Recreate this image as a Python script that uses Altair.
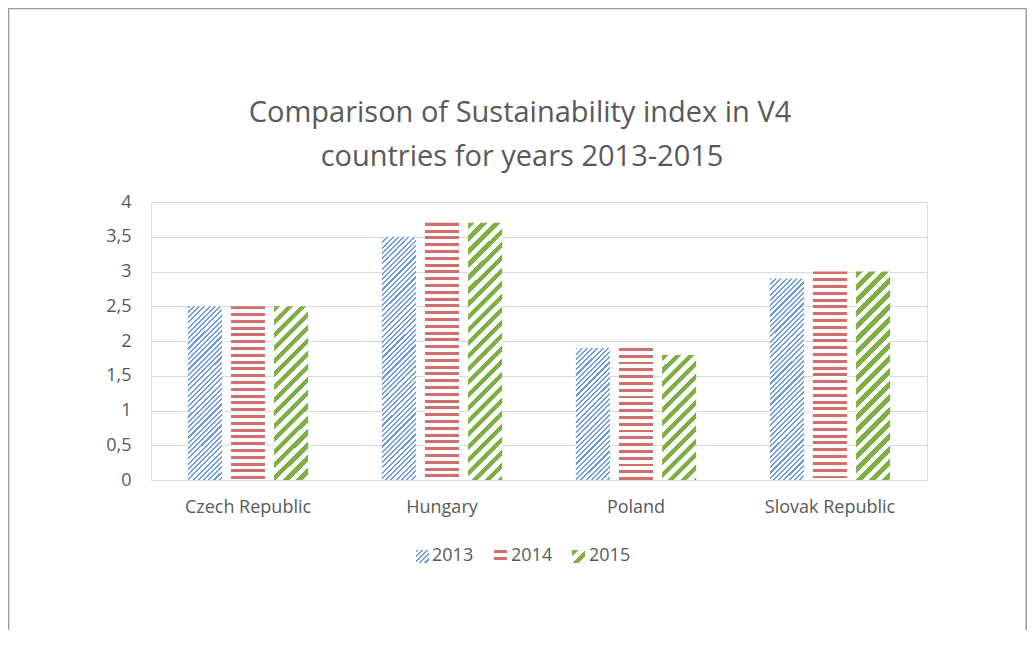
import math
import altair as alt
import pandas as pd

# ---- data ----
countries = ["Czech Republic", "Hungary", "Poland", "Slovak Republic"]
years = ["2013", "2014", "2015"]
v2013 = [2.5, 3.5, 1.9, 2.9]
v2014 = [2.5, 3.7, 1.9, 3.0]
v2015 = [2.5, 3.7, 1.8, 3.0]
y_ticks = [0, 0.5, 1, 1.5, 2, 2.5, 3, 3.5, 4]
title_lines = ["Comparison of Sustainability index in V4", "countries for years 2013-2015"]

rows = []
for yr, vals in zip(years, [v2013, v2014, v2015]):
    for c, v in zip(countries, vals):
        rows.append({"country": c, "year": yr, "value": v})
df = pd.DataFrame(rows)

# ---- layout / style ----
W_PLOT, H_PLOT = 776, 278
PX = H_PLOT / 4.0          # px per unit
BAR_W = 34.0
FONT = "Open Sans"
GREY = "#595959"
BLUE, RED, GREEN = "#6d9ad8", "#d16f6c", "#7eb044"
D = 320.0                  # gradient length in px
SQ2 = math.sqrt(2)

# stripe specs: (color, period_px, thickness_px, kind)
spec = {
    "2013": (BLUE, 3.7, 1.5, "diag"),
    "2014": (RED, 6.8, 2.9, "horiz"),
    "2015": (GREEN, 9.2, 4.6, "diag"),
}


def stop_list(color, period, thick):
    out = []
    i = 0
    while True:
        a = i * period / D
        if a >= 1:
            break
        b = min((i * period + thick) / D, 1.0)
        nxt = min((i + 1) * period / D, 1.0)
        out += [(a, color), (b, color), (b, "#ffffff"), (nxt, "#ffffff")]
        i += 1
    return out


def stops_expr(stops):
    return "[" + ",".join("{offset:%.5f,color:'%s'}" % (o, c) for o, c in stops) + "]"


def grad_expr(yr):
    color, period, thick, kind = spec[yr]
    st = stops_expr(stop_list(color, period, thick))
    h = "(datum.value*%.4f)" % PX
    if kind == "diag":
        den = "(%.4f+%s*%s)" % (BAR_W * BAR_W, h, h)
        x2 = "%.4f/%s" % (D * SQ2 * BAR_W, den)
        y2 = "%.4f*%s/%s" % (D * SQ2, h, den)
        return "{gradient:'linear',x1:0,y1:0,x2:%s,y2:%s,stops:%s}" % (x2, y2, st)
    else:
        y2 = "%.4f/%s" % (D, h)
        return "{gradient:'linear',x1:0,y1:0,x2:0,y2:%s,stops:%s}" % (y2, st)


def grad_dict(yr, w, h):
    color, period, thick, kind = spec[yr]
    stops = [{"offset": round(o, 5), "color": c} for o, c in stop_list(color, period, thick)]
    if kind == "diag":
        den = w * w + h * h
        return {"gradient": "linear", "x1": 0, "y1": 0,
                "x2": D * SQ2 * w / den, "y2": D * SQ2 * h / den, "stops": stops}
    return {"gradient": "linear", "x1": 0, "y1": 0, "x2": 0, "y2": D / h, "stops": stops}


fill_expr = "datum.year == '2013' ? %s : (datum.year == '2014' ? %s : %s)" % (
    grad_expr("2013"), grad_expr("2014"), grad_expr("2015"))

one = alt.Data(values=[{"k": 1}])

bars = alt.Chart(df).mark_bar(strokeWidth=0).encode(
    x=alt.X("country:N", sort=countries, title=None,
            scale=alt.Scale(paddingInner=0.38, paddingOuter=0.19),
            axis=alt.Axis(labelFont=FONT, labelFontSize=18, labelColor=GREY,
                          labelPadding=18, ticks=False, domain=False, labelAngle=0)),
    xOffset=alt.XOffset("year:N", sort=years,
                        scale=alt.Scale(paddingInner=0.21, paddingOuter=0)),
    y=alt.Y("value:Q", title=None,
            scale=alt.Scale(domain=[0, 4], nice=False),
            axis=alt.Axis(values=y_ticks, labelFont=FONT, labelFontSize=18, labelColor=GREY,
                          labelPadding=20, ticks=False, domain=False,
                          gridColor="#d9d9d9", gridWidth=1,
                          labelExpr="replace(format(datum.value, '.1~f'), '.', ',')")),
    fill=alt.value({"expr": fill_expr}),
)

# title
title1 = alt.Chart(one).mark_text(font=FONT, fontSize=29, color=GREY, align="center",
                                  baseline="middle").encode(
    x=alt.value(369), y=alt.value(-89), text=alt.value(title_lines[0]))
title2 = alt.Chart(one).mark_text(font=FONT, fontSize=29, color=GREY, align="center",
                                  baseline="middle").encode(
    x=alt.value(371), y=alt.value(-45), text=alt.value(title_lines[1]))

# legend
sw_x = [265, 343, 421]
tx_x = [281, 360, 438]
legend_layers = []
for yr, sx, tx in zip(years, sw_x, tx_x):
    legend_layers.append(
        alt.Chart(one).mark_rect(strokeWidth=0).encode(
            x=alt.value(sx), x2=alt.value(sx + 13), y=alt.value(348), y2=alt.value(361),
            fill=alt.value(grad_dict(yr, 13, 13))))
    legend_layers.append(
        alt.Chart(one).mark_text(font=FONT, fontSize=18, color=GREY, align="left",
                                 baseline="middle").encode(
            x=alt.value(tx), y=alt.value(354), text=alt.value(yr)))

# border (top, left, right)
bc = "#9a9a9a"
b_top = alt.Chart(one).mark_rule(color=bc, strokeWidth=1.5).encode(
    x=alt.value(-142.5), x2=alt.value(875.2), y=alt.value(-193.5))
b_left = alt.Chart(one).mark_rule(color=bc, strokeWidth=1.5).encode(
    x=alt.value(-142.5), y=alt.value(-193.5), y2=alt.value(430))
b_right = alt.Chart(one).mark_rule(color=bc, strokeWidth=1.5).encode(
    x=alt.value(875.2), y=alt.value(-193.5), y2=alt.value(430))

chart = alt.layer(bars, title1, title2, *legend_layers, b_top, b_left, b_right).properties(
    width=W_PLOT, height=H_PLOT,
    padding={"left": 143, "top": 194, "right": 100, "bottom": 150},
    autosize="none",
).configure_view(stroke=None).configure(background="white")

chart.save("out.html", embed_options={"renderer": "svg", "actions": False})
